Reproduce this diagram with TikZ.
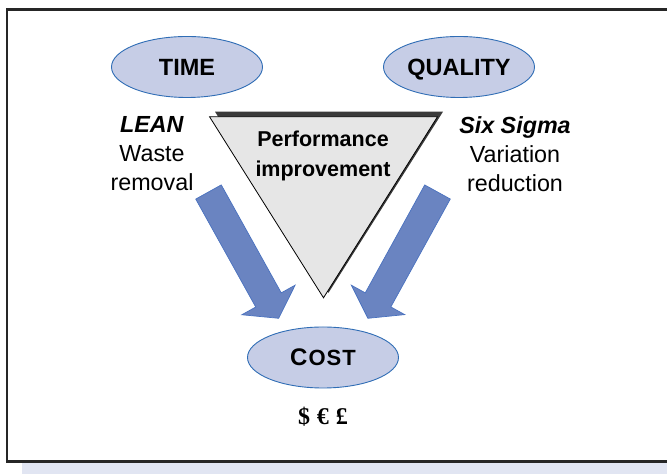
\documentclass[tikz,border=0pt]{standalone}
\usepackage{fontspec}
\setmainfont{Liberation Sans}
\newfontfamily\moneyfont{Liberation Serif}
\usetikzlibrary{calc, shapes.geometric}
\definecolor{ovalfill}{HTML}{C6CDE6}
\definecolor{ovalline}{HTML}{2F6DB5}
\definecolor{arrowfill}{HTML}{6A84C1}
\definecolor{arrowline}{HTML}{4A72BF}
\definecolor{tribg}{HTML}{E6E6E6}
\definecolor{trishadow}{HTML}{3A3A3A}
\definecolor{framegray}{HTML}{262626}
\definecolor{bandblue}{HTML}{E1E5F2}

\begin{document}
\begin{tikzpicture}[
  x=1bp, y=1bp,
  oval/.style={ellipse, draw=ovalline, fill=ovalfill, line width=0.9bp,
    minimum width=151bp, minimum height=61bp, inner sep=0pt, text depth=0pt,
    font=\fontsize{23.5bp}{28bp}\selectfont\bfseries},
  side/.style={align=center, inner sep=0pt, font=\fontsize{23.3bp}{29bp}\selectfont},
  blockarrow/.style={fill=arrowfill, draw=arrowline, line width=0.7bp, line join=miter},
]
\useasboundingbox (0,0) rectangle (667,474);

% ===== Frame =====
\fill[bandblue] (22,0) rectangle (667,11);
\draw[framegray, line width=2.6bp] (667,464.3) -- (7,464.3) -- (7,12.3) -- (667,12.3);

% ===== Triangle with shadow =====
\fill[trishadow] (215,362.3) -- (443,362.3) -- (328.5,181.2) -- cycle;
\draw[black, line width=0.8bp, fill=tribg] (209.5,357.3) -- (437.5,357.3) -- (323.5,176.2) -- cycle;
\node[align=center, inner sep=0pt, font=\fontsize{21.5bp}{30bp}\selectfont\bfseries]
  (perf) at (323,318) {Performance\\improvement};

% ===== Goals =====
\node[oval] (time) at (187,407) {TIME};
\node[oval] (quality) at (459,407) {QUALITY};
\node[oval] (cost) at (323,116.5)
  {{\fontsize{24bp}{28bp}\selectfont C}\kern1bp{\fontsize{22bp}{26bp}\selectfont O\kern1bp S\kern1bp T}};
\node[font=\moneyfont\fontsize{24bp}{28bp}\selectfont\bfseries]
  (money) at (323,57) {\$\hspace{7bp}€\hspace{7bp}£};

% ===== Methods =====
\node[side] (lean) at (152,320) {\textbf{\textit{LEAN}}\\Waste\\removal};
\node[side] (sigma) at (515,320) {\textbf{\textit{Six Sigma}}\\Variation\\reduction};

% ===== Block arrows towards cost =====
\coordinate (leanTail) at (208.5,282);
\coordinate (leanTip) at (278.7,155.7);
\coordinate (sigmaTail) at (437.5,282);
\coordinate (sigmaTip) at (367.9,155.7);
\foreach \t/\p in {leanTail/leanTip, sigmaTail/sigmaTip} {
  \coordinate (\t-base) at ($(\p)!21bp!(\t)$);
  \draw[blockarrow] ($(\t)!14.6bp!90:(\p)$) -- ($(\t-base)!14.6bp!-90:(\t)$)
    -- ($(\t-base)!30.5bp!-90:(\t)$) -- (\p) -- ($(\t-base)!30.5bp!90:(\t)$)
    -- ($(\t-base)!14.6bp!90:(\t)$) -- ($(\t)!14.6bp!-90:(\p)$) -- cycle;
}

\end{tikzpicture}
\end{document}
